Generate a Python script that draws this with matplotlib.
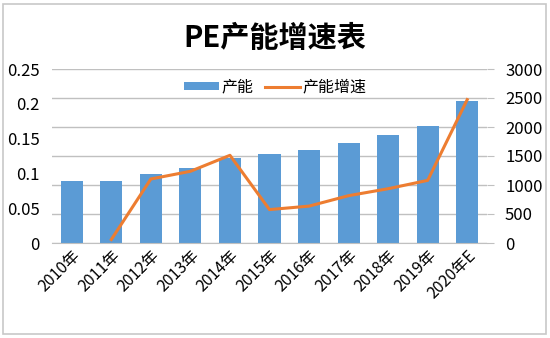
import matplotlib
matplotlib.use("Agg")
import matplotlib.pyplot as plt
from matplotlib.patches import Rectangle

plt.rcParams['font.family'] = ['Noto Sans CJK SC', 'DejaVu Sans']

# data
years = ["2010年", "2011年", "2012年", "2013年", "2014年", "2015年",
         "2016年", "2017年", "2018年", "2019年", "2020年E"]
capacity = [1062, 1067, 1188, 1294, 1464, 1536, 1608, 1724, 1855, 2022, 2454]
growth = [None, 0.005, 0.092, 0.103, 0.126, 0.048, 0.053, 0.068, 0.078, 0.090, 0.206]

bar_color = "#5B9BD5"
line_color = "#ED7D31"
grid_color = "#C0C0C0"

fig = plt.figure(figsize=(5.5, 3.38), dpi=100)

# outer frame of the chart
fig.patches.append(Rectangle((3 / 550, 4 / 338), 543 / 550, 330 / 338,
                             transform=fig.transFigure, fill=False,
                             edgecolor="#C8C8C8", linewidth=1.2))

ax = fig.add_axes([52 / 550, 1 - 243 / 338, 435 / 550, 174 / 338])
ax2 = ax.twinx()

x = list(range(len(years)))

# bars on the right axis, growth line on the left axis
ax2.bar(x, capacity, width=0.56, color=bar_color, zorder=2, label="产能")
gx = [i for i, g in zip(x, growth) if g is not None]
gy = [g for g in growth if g is not None]
line, = ax.plot(gx, gy, color=line_color, linewidth=2.2, zorder=5, label="产能增速")

ax.set_zorder(ax2.get_zorder() + 1)
ax.patch.set_visible(False)

ax.set_xlim(-0.5, len(years) - 0.5)
ax.set_ylim(0, 0.25)
ax.set_yticks([0, 0.05, 0.1, 0.15, 0.2, 0.25])
ax.set_yticklabels(["0", "0.05", "0.1", "0.15", "0.2", "0.25"])
ax2.set_ylim(0, 3000)
ax2.set_yticks(range(0, 3001, 500))

for a in (ax, ax2):
    for s in a.spines.values():
        s.set_visible(False)
ax.spines["bottom"].set_visible(True)
ax.spines["bottom"].set_color(grid_color)

ax2.yaxis.grid(True, color=grid_color, linewidth=1)
ax2.set_axisbelow(True)

ax.tick_params(axis="y", length=0, pad=9, labelsize=12)
ax2.tick_params(axis="y", length=5, color=grid_color, pad=8, labelsize=12)
ax.tick_params(axis="x", length=0, pad=3, labelsize=11.5)
ax.set_xticks(x)
ax.set_xticklabels(years, rotation=45, ha="right", rotation_mode="anchor")

# legend
h2, l2 = ax2.get_legend_handles_labels()
fig.legend(h2 + [line], l2 + ["产能增速"], loc="center",
           bbox_to_anchor=(0.5, 1 - 87 / 338), ncol=2, frameon=False,
           fontsize=11.5, handlelength=2.2, handleheight=0.45,
           columnspacing=0.7, handletextpad=0.15)

fig.text(0.5, 1 - 38 / 338, "PE产能增速表", ha="center", va="center",
         fontsize=21, fontweight="bold")

fig.savefig("out.png", dpi=100)
